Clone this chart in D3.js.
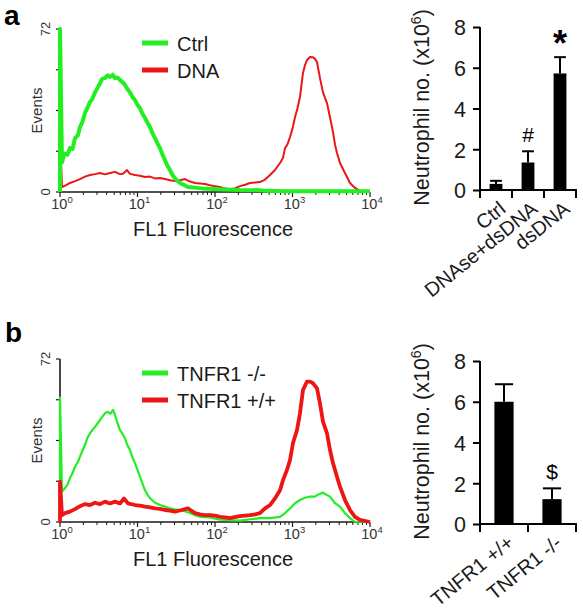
<!DOCTYPE html>
<html>
<head>
<meta charset="utf-8">
<script src="https://cdn.jsdelivr.net/npm/d3@7"></script>
<style>
  html, body { margin: 0; padding: 0; background: #fff; }
  svg { display: block; font-family: "Liberation Sans", Arial, sans-serif; }
</style>
</head>
<body>
<svg id="chart" width="583" height="613"></svg>
<script>
// ---------- DATA ----------
// Histogram x ticks (FL1 decades) and y ticks (events)
const flDecades = [1, 10, 100, 1000, 10000];
const flDecadeExp = ["0", "1", "2", "3", "4"];
const eventTicks = [0, 18, 36, 54, 72];
const eventTickLabels = ["0", "", "", "", "72"];

// Panel a histograms: [FL1 value, events]
const ctrlA = [[1,0],[1,72],[1.061,13],[1.12,16],[1.16,17],[1.25,16.5],[1.346,19.4],[1.45,19],[1.562,23.8],[1.7,25],[1.812,28.7],[1.95,31],[2.102,34.9],[2.25,37],[2.438,39.8],[2.6,41],[2.829,44],[3.05,46],[3.282,48],[3.5,50],[3.808,50.3],[4.1,51.5],[4.418,50.8],[4.8,51.8],[5.125,50.3],[5.5,50.6],[5.946,49.5],[6.4,48.5],[6.90,47.3],[7.4,45.5],[8.00,44],[8.6,42],[9.28,40.6],[10.0,38.5],[10.77,37],[11.6,34.5],[12.5,32.7],[13.5,30.5],[14.5,28.7],[15.6,26],[16.82,23.8],[18.1,21.5],[19.51,19.4],[21,16.5],[22.63,14],[24.4,11.5],[26.26,9.7],[28.3,7.5],[30.47,6],[35.35,4],[44.84,2.2],[67.9,1.6],[116,1.2],[210,0.9],[380,0.8],[469,0.5],[800,0.3],[10000,0.3]];
const dnaA = [[1,0],[1,25],[1.061,2.2],[1.2,3],[1.346,4],[1.562,4.8],[1.812,5.7],[2.102,6.8],[2.438,7.5],[2.829,7.9],[3.282,8.4],[3.808,7.8],[4.418,8.4],[5.125,8.9],[5.946,7.9],[6.5,8.1],[7.32,9.7],[8.0,8.0],[9.28,7.5],[10.77,7.2],[12.5,6.6],[14.5,6.8],[16.82,6],[19.51,6.2],[22.63,5.7],[26.26,5.2],[30.47,4.9],[35.35,5.2],[41.0,5.7],[47.6,4.6],[55.2,4],[64,3.8],[74.3,3.5],[86.1,3],[100,2.6],[116,2.2],[135,1.6],[156,1.2],[180,1.6],[210,2.6],[245,3.2],[283,4],[330,4.2],[380,4.4],[442,5.5],[513,7.5],[594,9.7],[690,12.8],[754,15],[800,19.4],[860,21],[929,24.3],[1000,28],[1077,33],[1160,37],[1249,42],[1366,52.6],[1450,56],[1538,58.3],[1682,59.6],[1839,59.5],[1950,58.8],[2071,57.4],[2263,50.3],[2474,44],[2786,39.3],[3046,33],[3331,26.5],[3534,21],[3750,17.2],[4100,12.8],[4756,8.4],[5518,4],[6400,1.8],[7425,0.5],[10000,0]];

// Panel b histograms
const koB = [[1,0],[1,55],[1.061,13.4],[1.16,15],[1.25,16.5],[1.346,19.4],[1.45,21.5],[1.562,24.4],[1.7,26.5],[1.812,28.9],[1.95,31.5],[2.102,34],[2.25,37],[2.438,39.2],[2.6,40.5],[2.829,42],[3.05,43.5],[3.282,45],[3.5,46.5],[3.808,48],[4.16,48.7],[4.45,47.8],[4.83,49.5],[5.1,47.5],[5.44,44.3],[5.946,40.6],[6.4,39],[6.90,37],[7.4,34],[8.00,31.8],[8.6,28.5],[9.28,26],[10.0,23],[10.77,20],[11.6,17],[12.5,14],[13.5,12],[14.5,10.5],[16.82,8.5],[19.51,7.5],[22.63,6.8],[26.26,6],[30.47,5.6],[35.35,5.3],[41,4.8],[47.6,4],[55.2,3],[64,2.3],[86.1,2],[116,1],[156,0.8],[210,0.6],[283,1.2],[380,1.7],[513,1.7],[690,2.3],[800,3.9],[929,6],[1077,8.3],[1249,9.7],[1449,10.7],[1682,11.2],[1951,11.2],[2100,12],[2263,12.4],[2450,13],[2626,12.4],[3046,11.2],[3534,8.3],[4100,6.8],[4756,3.9],[5518,1.7],[6400,0.1],[10000,0]];
const wtB = [[1,0],[1,17.8],[1.061,3],[1.16,3.9],[1.346,4.6],[1.562,5.7],[1.812,7],[2.102,7.9],[2.438,7.5],[2.829,8.5],[3.282,7.9],[3.808,9],[4.418,8.2],[5.125,9],[5.946,8.2],[6.70,10.4],[7.54,8.2],[9.28,7.5],[10.77,7.2],[12.5,6.8],[14.5,6.5],[16.82,6],[19.51,5.8],[22.63,5.3],[26.26,5.0],[30.47,4.6],[36,5.2],[44.84,6],[55.2,3.9],[64,3.4],[74.3,3],[86.1,3],[100,2.8],[116,2.3],[135,2],[156,1.7],[180,2.2],[210,2.6],[283,3],[330,3.4],[380,3.9],[442,6],[513,7.5],[594,10.4],[690,14],[754,18.5],[849,23],[929,27.4],[1015,34.9],[1143,40.6],[1249,48],[1366,58.3],[1538,62],[1682,62],[1839,61.3],[2071,59],[2263,52.4],[2474,44.3],[2786,39.2],[3046,31.8],[3331,26],[3750,20],[4100,15.6],[4756,9.7],[5518,5.3],[6400,2.3],[7425,0.9],[10000,0]];

// Bar charts
const barCatsA = ["Ctrl", "DNAse+dsDNA", "dsDNA"];
const barValsA = [0.3, 1.35, 5.72];
const barErrA = [0.15, 0.55, 0.8];
const barMarksA = ["", "#", "*"];

const barCatsB = ["TNFR1 +/+", "TNFR1 -/-"];
const barValsB = [6.0, 1.22];
const barErrB = [0.86, 0.53];
const barMarksB = ["", "$"];

const barTicks = [0, 2, 4, 6, 8];

const GREEN = "#22ee22";
const RED = "#ee1515";
const INK = "#1a1a1a";

// ---------- DRAW ----------
const svg = d3.select("#chart");

function histogram(g, series, legend) {
  const x = d3.scaleLog().domain([1, 10000]).range([60, 370]);
  const y = d3.scaleLinear().domain([0, 72]).range([163, 0]);
  const line = d3.line().x(d => x(d[0])).y(d => y(d[1]));

  // x axis
  g.append("line").attr("x1", x(1)).attr("x2", x(10000)).attr("y1", y(0)).attr("y2", y(0))
    .attr("stroke", INK).attr("stroke-width", 1.6);
  const minor = [];
  flDecades.slice(0, -1).forEach(d => { for (let k = 2; k <= 9; k++) minor.push(d * k); });
  g.selectAll(".minor").data(minor).join("line")
    .attr("x1", d => x(d)).attr("x2", d => x(d)).attr("y1", y(0)).attr("y2", y(0) + 3)
    .attr("stroke", INK).attr("stroke-width", 1);
  g.selectAll(".major").data(flDecades).join("line")
    .attr("x1", d => x(d)).attr("x2", d => x(d)).attr("y1", y(0)).attr("y2", y(0) + 5)
    .attr("stroke", INK).attr("stroke-width", 1.2);
  const lab = g.selectAll(".xl").data(flDecades).join("text")
    .attr("x", d => x(d) + 2).attr("y", y(0) + 17)
    .attr("text-anchor", "middle").attr("font-size", 14.5).attr("fill", "#333");
  lab.append("tspan").text("10");
  lab.append("tspan").attr("dy", -6).attr("font-size", 9.5).text((d, i) => flDecadeExp[i]);

  // y axis
  g.append("line").attr("x1", x(1)).attr("x2", x(1)).attr("y1", y(0)).attr("y2", y(72))
    .attr("stroke", INK).attr("stroke-width", 1.6);
  g.selectAll(".yt").data(eventTicks).join("line")
    .attr("x1", x(1) - 4).attr("x2", x(1)).attr("y1", d => y(d)).attr("y2", d => y(d))
    .attr("stroke", INK).attr("stroke-width", 1.2);
  g.selectAll(".yl").data(eventTicks).join("text")
    .attr("transform", d => `translate(50,${y(d)}) rotate(-90)`)
    .attr("text-anchor", "middle").attr("font-size", 13).attr("fill", "#333")
    .text((d, i) => eventTickLabels[i]);
  g.append("text").attr("transform", `translate(42,${y(36)}) rotate(-90)`)
    .attr("text-anchor", "middle").attr("font-size", 15).attr("fill", "#333").text("Events");

  // curves
  series.forEach(s => {
    g.append("path").datum(s.data).attr("d", line).attr("fill", "none")
      .attr("stroke", s.color).attr("stroke-width", s.width).attr("stroke-linejoin", "round");
  });

  // x title
  g.append("text").attr("x", 213).attr("y", y(0) + 44).attr("text-anchor", "middle")
    .attr("font-size", 20).attr("fill", INK).text("FL1 Fluorescence");

  // legend
  legend.forEach((l, i) => {
    const ly = 14 + i * 27;
    g.append("line").attr("x1", 142).attr("x2", 168).attr("y1", ly).attr("y2", ly)
      .attr("stroke", l.color).attr("stroke-width", 5);
    g.append("text").attr("x", 177).attr("y", ly + 8).attr("font-size", 20).attr("fill", INK).text(l.label);
  });
}

function barChart(g, cats, vals, errs, marks) {
  const x = d3.scaleBand().domain(cats).range([480, 576]).paddingInner(0.6).paddingOuter(0.3);
  const y = d3.scaleLinear().domain([0, 8]).range([163, 0]);

  // bars
  g.selectAll(".bar").data(cats).join("rect")
    .attr("x", d => x(d)).attr("width", x.bandwidth())
    .attr("y", (d, i) => y(vals[i])).attr("height", (d, i) => y(0) - y(vals[i]))
    .attr("fill", "#000");
  // error bars (upper)
  g.selectAll(".ev").data(cats).join("line")
    .attr("x1", d => x(d) + x.bandwidth() / 2).attr("x2", d => x(d) + x.bandwidth() / 2)
    .attr("y1", (d, i) => y(vals[i])).attr("y2", (d, i) => y(vals[i] + errs[i]))
    .attr("stroke", "#000").attr("stroke-width", 2);
  g.selectAll(".ec").data(cats).join("line")
    .attr("x1", d => x(d) + 0.5).attr("x2", d => x(d) + x.bandwidth() - 0.5)
    .attr("y1", (d, i) => y(vals[i] + errs[i])).attr("y2", (d, i) => y(vals[i] + errs[i]))
    .attr("stroke", "#000").attr("stroke-width", 2);
  // significance marks
  g.selectAll(".mk").data(cats).join("text")
    .attr("x", d => x(d) + x.bandwidth() / 2)
    .attr("y", (d, i) => y(vals[i] + errs[i]) - (marks[i] === "*" ? 1 : 9))
    .attr("text-anchor", "middle")
    .attr("font-size", (d, i) => marks[i] === "*" ? 36 : 21)
    .attr("font-weight", (d, i) => marks[i] === "*" ? "bold" : "normal")
    .attr("fill", "#000").text((d, i) => marks[i]);

  // y axis
  const yAxis = d3.axisLeft(y).tickValues(barTicks).tickSize(7).tickPadding(7).tickFormat(d3.format("d"));
  const ya = g.append("g").attr("transform", "translate(480,0)").call(yAxis);
  ya.select(".domain").attr("stroke", "#000").attr("stroke-width", 2).attr("d", `M0,${y(8)}V${y(0)}`);
  ya.selectAll(".tick line").attr("stroke", "#000").attr("stroke-width", 2);
  ya.selectAll(".tick text").attr("font-size", 21.5).attr("fill", INK)
    .attr("font-family", "Liberation Sans, Arial, sans-serif").attr("dy", "0.36em");

  // x axis with boundary ticks
  g.append("line").attr("x1", 480).attr("x2", 577).attr("y1", y(0)).attr("y2", y(0))
    .attr("stroke", "#000").attr("stroke-width", 2);
  const bounds = d3.range(cats.length + 1).map(i => x.range()[0] + i * x.step());
  g.selectAll(".xt").data(bounds).join("line")
    .attr("x1", d => d).attr("x2", d => d).attr("y1", y(0)).attr("y2", y(0) + 8)
    .attr("stroke", "#000").attr("stroke-width", 2);
  g.selectAll(".xl").data(cats).join("text")
    .attr("transform", d => `translate(${x(d) + x.bandwidth() / 2 + 11},${y(0) + 21}) rotate(-39)`)
    .attr("text-anchor", "end").attr("font-size", 20).attr("fill", INK).text(d => d);

  // y title
  const t = g.append("text").attr("transform", `translate(429,${y(4) - 1}) rotate(-90)`)
    .attr("text-anchor", "middle").attr("font-size", 21.5).attr("fill", INK);
  t.append("tspan").text("Neutrophil no. (x10");
  t.append("tspan").attr("dy", -8).attr("font-size", 14).text("6");
  t.append("tspan").attr("dy", 8).text(")");
}

// Panel a
const ga = svg.append("g").attr("transform", "translate(0,29)");
histogram(ga,
  [{ data: dnaA, color: RED, width: 2 }, { data: ctrlA, color: GREEN, width: 4 }],
  [{ label: "Ctrl", color: GREEN }, { label: "DNA", color: RED }]);
const gba = svg.append("g").attr("transform", "translate(0,27)");
barChart(gba, barCatsA, barValsA, barErrA, barMarksA);

// Panel b
const gb = svg.append("g").attr("transform", "translate(0,359)");
histogram(gb,
  [{ data: koB, color: GREEN, width: 2.2 }, { data: wtB, color: RED, width: 3.8 }],
  [{ label: "TNFR1 -/-", color: GREEN }, { label: "TNFR1 +/+", color: RED }]);
const gbb = svg.append("g").attr("transform", "translate(0,361)");
barChart(gbb, barCatsB, barValsB, barErrB, barMarksB);

// Panel letters
svg.append("text").attr("x", 4).attr("y", 25).attr("font-size", 28).attr("font-weight", "bold").attr("fill", "#000").text("a");
svg.append("text").attr("x", 5).attr("y", 342).attr("font-size", 28).attr("font-weight", "bold").attr("fill", "#000").text("b");
</script>
</body>
</html>
